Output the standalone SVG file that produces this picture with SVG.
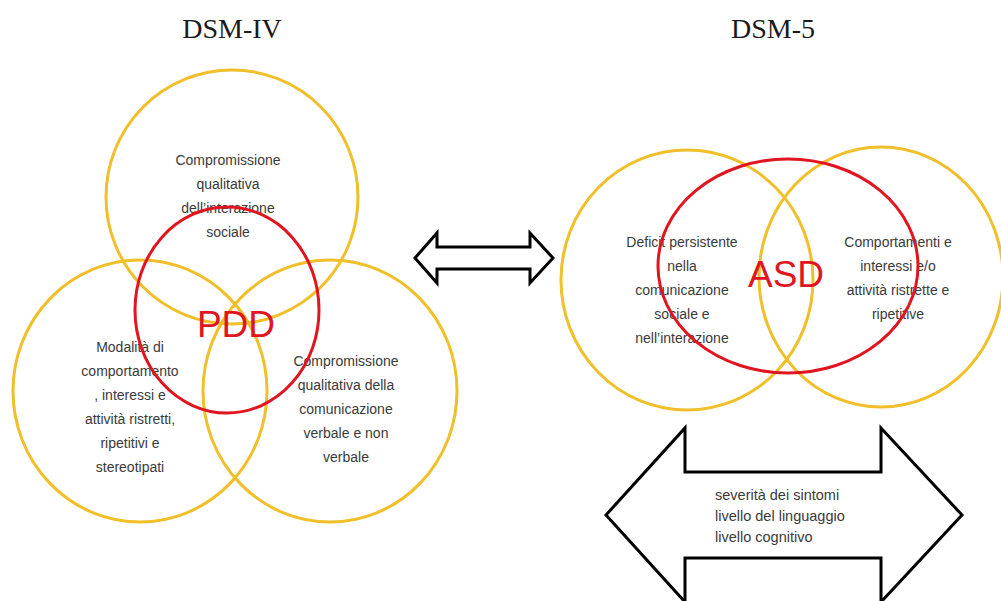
<svg xmlns="http://www.w3.org/2000/svg" width="1001" height="601" viewBox="0 0 1001 601">
<style>
.y{fill:none;stroke:#f0bf2a;stroke-width:3}
.r{fill:none;stroke:#e0151f;stroke-width:3}
.t{font-family:"Liberation Sans",Arial,sans-serif;font-size:14px;fill:#3a3a3a;text-anchor:middle}
.a{font-family:"Liberation Sans",Arial,sans-serif;font-size:14.5px;fill:#3a3a3a}
.h{font-family:"Liberation Serif","Times New Roman",serif;font-size:28px;fill:#1a1a1a;text-anchor:middle}
.big{font-family:"Liberation Sans",Arial,sans-serif;font-size:37px;fill:#e0151f;text-anchor:middle}
.arr{fill:#fff;stroke:#000;stroke-width:3;stroke-linejoin:miter}
</style>
<rect width="1001" height="601" fill="#fff"/>
<text class="h" x="232" y="38">DSM-IV</text>
<text class="h" x="773" y="38">DSM-5</text>
<g id="connectors">
<path class="arr" d="M415,258 L437,233 L437,247 L530,247 L530,233 L553,258 L530,283 L530,269 L437,269 L437,283 Z"/>
<path class="arr" stroke-width="3.5" d="M606,515 L685,428 L685,472 L881,472 L881,428 L962,515 L881,602 L881,558 L685,558 L685,602 Z"/>
</g>
<g id="node-social">
<ellipse class="y" cx="232" cy="197" rx="126" ry="127"/>
<text class="t" x="228" y="165">Compromissione</text>
<text class="t" x="228" y="189">qualitativa</text>
<text class="t" x="228" y="213">dell’interazione</text>
<text class="t" x="228" y="237">sociale</text>
</g>
<g id="node-behaviour">
<ellipse class="y" cx="140" cy="391" rx="127" ry="131"/>
<text class="t" x="130" y="352">Modalità di</text>
<text class="t" x="130" y="376">comportamento</text>
<text class="t" x="130" y="400">, interessi e</text>
<text class="t" x="130" y="424">attività ristretti,</text>
<text class="t" x="130" y="448">ripetitivi e</text>
<text class="t" x="130" y="472">stereotipati</text>
</g>
<g id="node-communication">
<ellipse class="y" cx="330" cy="391" rx="127" ry="131"/>
<text class="t" x="346" y="366">Compromissione</text>
<text class="t" x="346" y="390">qualitativa della</text>
<text class="t" x="346" y="414">comunicazione</text>
<text class="t" x="346" y="438">verbale e non</text>
<text class="t" x="346" y="462">verbale</text>
</g>
<g id="node-pdd">
<ellipse class="r" cx="227" cy="310" rx="92" ry="103"/>
<text class="big" x="236" y="337">PDD</text>
</g>
<g id="node-deficit">
<ellipse class="y" cx="687" cy="280" rx="126" ry="130"/>
<text class="t" x="682" y="247">Deficit persistente</text>
<text class="t" x="682" y="271">nella</text>
<text class="t" x="682" y="295">comunicazione</text>
<text class="t" x="682" y="319">sociale e</text>
<text class="t" x="682" y="343">nell’interazione</text>
</g>
<g id="node-restricted">
<ellipse class="y" cx="881" cy="277" rx="122" ry="130"/>
<text class="t" x="898" y="247">Comportamenti e</text>
<text class="t" x="898" y="271">interessi e/o</text>
<text class="t" x="898" y="295">attività ristrette e</text>
<text class="t" x="898" y="319">ripetitive</text>
</g>
<g id="node-asd">
<ellipse class="r" cx="788" cy="266" rx="130" ry="107"/>
<text class="big" x="786" y="287">ASD</text>
</g>
<g id="node-severity">
<text class="a" x="715" y="500">severità dei sintomi</text>
<text class="a" x="715" y="521">livello del linguaggio</text>
<text class="a" x="715" y="542">livello cognitivo</text>
</g>
</svg>
